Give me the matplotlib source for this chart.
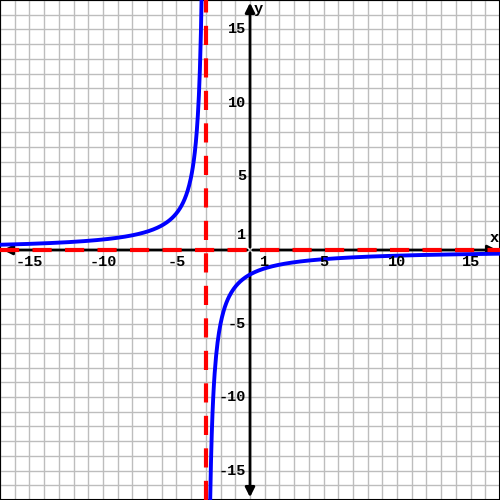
import numpy as np
import matplotlib
matplotlib.use("Agg")
import matplotlib.pyplot as plt

# ---------------- data ----------------
x_range = (-17, 17)
y_range = (-17, 17)
numerator = -5.0          # y = numerator / (x - pole)
pole = -3.0
h_asym = 0.0
x_tick_vals = [-15, -10, -5, 1, 5, 10, 15]
y_tick_vals = [-15, -10, -5, 1, 5, 10, 15]

fig = plt.figure(figsize=(5, 5), dpi=100)
ax = fig.add_axes([0, 0, 1, 1])
ax.set_xlim(*x_range)
ax.set_ylim(*y_range)

# grid every unit
for v in range(x_range[0], x_range[1] + 1):
    ax.axvline(v, color="#bdbdbd", linewidth=1, zorder=0)
for v in range(y_range[0], y_range[1] + 1):
    ax.axhline(v, color="#bdbdbd", linewidth=1, zorder=0)

# axes with arrows
arrow_kw = dict(arrowstyle="-|>", color="black", linewidth=2, mutation_scale=14)
ax.annotate("", xy=(x_range[1], 0), xytext=(0, 0), arrowprops=arrow_kw, zorder=2)
ax.annotate("", xy=(x_range[0], 0), xytext=(0, 0), arrowprops=arrow_kw, zorder=2)
ax.annotate("", xy=(0, y_range[1]), xytext=(0, 0), arrowprops=arrow_kw, zorder=2)
ax.annotate("", xy=(0, y_range[0]), xytext=(0, 0), arrowprops=arrow_kw, zorder=2)

# curve, two branches
xl = np.linspace(x_range[0], pole - 0.2, 400)
xr = np.linspace(pole + 0.2, x_range[1], 400)
for xs in (xl, xr):
    ax.plot(xs, numerator / (xs - pole), color="blue", linewidth=2.8, zorder=3)

# asymptotes
ax.axvline(pole, color="red", linewidth=3, dashes=(4.6, 3.2), zorder=4)
ax.axhline(h_asym, color="red", linewidth=3, dashes=(4.6, 3.2), zorder=4)

# tick labels
font = dict(family="Liberation Mono", weight="bold", size=11)
for v in x_tick_vals:
    ax.text(v, -0.35, str(v), ha="center", va="top", **font)
for v in y_tick_vals:
    ax.text(-0.25, v, str(v), ha="right", va="center", **font)
ax.text(16.6, 0.35, "x", ha="center", va="bottom", **font)
ax.text(0.25, 16.4, "y", ha="left", va="center", **font)

ax.set_xticks([])
ax.set_yticks([])
for s in ax.spines.values():
    s.set_linewidth(1.5)
    s.set_color("black")

fig.savefig("out.png", dpi=100)
